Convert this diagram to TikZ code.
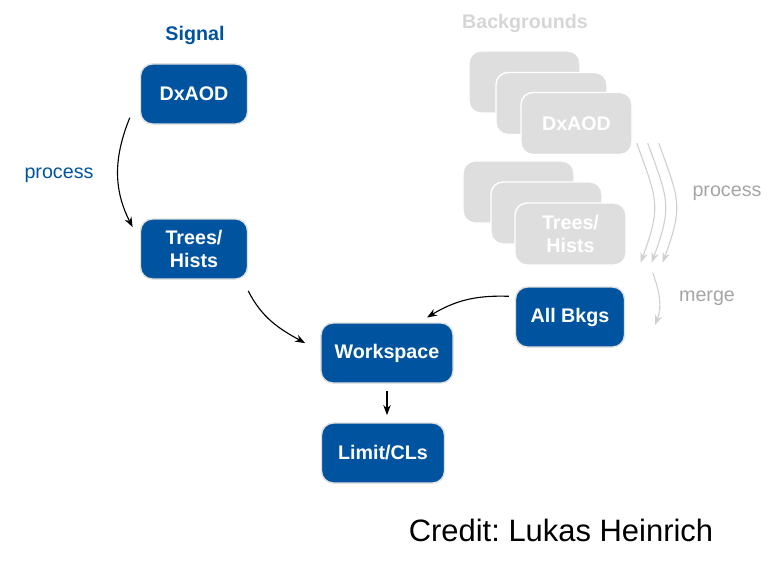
\documentclass[tikz,border=0pt]{standalone}
\usepackage{fontspec}
\setmainfont{Liberation Sans}
\usepackage{xcolor}
\usepackage{tikz}
\usetikzlibrary{arrows.meta, positioning}
\definecolor{signalblue}{RGB}{0,84,159}
\definecolor{bkgfill}{RGB}{222,222,222}
\definecolor{bkgtitle}{RGB}{214,214,214}
\definecolor{bkglabel}{RGB}{165,165,165}
\definecolor{bkgarrow}{RGB}{208,208,208}
\newcommand{\lblsize}{\fontsize{14}{16.5}\selectfont}
\frenchspacing

\begin{document}
\begin{tikzpicture}[x=0.025cm, y=-0.025cm, font=\lblsize,
    b/.style={draw=black!12, line width=1pt, rounded corners=0.3cm, fill=signalblue, text=white, font=\lblsize\bfseries, minimum height=1.5cm, align=center},
    g/.style={draw=white, line width=1pt, rounded corners=0.3cm, fill=bkgfill, text=white, font=\lblsize\bfseries, minimum width=2.775cm, minimum height=1.55cm, align=center},
    arr/.style={-{Stealth[length=2.5mm]}, thick},
    garr/.style={-{Stealth[length=2.5mm]}, thick, draw=bkgarrow}]
    \useasboundingbox (0,0) rectangle (772,562);
    % signal chain
    \node[b, minimum width=2.675cm] (sd) at (194,94) {DxAOD};
    \node[font=\lblsize\bfseries, text=signalblue] (sig) at (195,35) {Signal};
    \node[b, minimum width=2.675cm] (st) at (194,249) {Trees/\\Hists};
    \node[text=signalblue] (sp) at (59,175) {process};
    \node[b, minimum width=3.3cm] (ws) at (387,353) {Workspace};
    \node[b, minimum width=3.075cm] (lim) at (383,453) {Limit/CLs};
    % backgrounds
    \node[font=\lblsize\bfseries, text=bkgtitle] (bkg) at (525,23) {Backgrounds};
    \node[g] (bd1) at (524.5,82) {};
    \node[g] (bd2) at (551.5,103.5) {};
    \node[g] (bd3) at (576.5,123.5) {DxAOD};
    \node[g] (bt1) at (518.5,192) {};
    \node[g] (bt2) at (546.5,213) {};
    \node[g] (bt3) at (570.5,234) {Trees/\\Hists};
    \node[text=bkglabel] (bp) at (727,193) {process};
    \node[text=bkglabel] (bm) at (707,298) {merge};
    \node[b, minimum width=2.725cm] (ab) at (570,317) {All Bkgs};
    \node[font=\fontsize{22}{26}\selectfont] (credit) at (561,530) {Credit: Lukas Heinrich};
    % connectors
    \draw[arr] ([xshift=-0.25cm, yshift=0.175cm]sd.south west) to[out=-112, in=117] ([xshift=-0.18cm, yshift=-0.22cm]st.north west);
    \draw[arr] ([yshift=-0.28cm]st.south east) to[out=-63, in=151] ([xshift=-0.38cm, yshift=-0.52cm]ws.north west);
    \draw[arr] ([xshift=-0.15cm, yshift=-0.25cm]ab.north west) to[out=178, in=31] ([xshift=1cm, yshift=0.12cm]ws.north);
    \draw[arr] ([yshift=-0.18cm]ws.south) -- ([yshift=0.18cm]ws.south |- lim.north);
    \foreach \dx in {0,11,22}
      \draw[garr] ([xshift=0.1cm+\dx*0.025cm, yshift=0.3cm]bd3.south east) to[out=-70, in=70, looseness=1.3] ([xshift=0.35cm+\dx*0.025cm, yshift=0.08cm]bt3.south east);
    \draw[garr] ([xshift=0.65cm, yshift=-0.175cm]bt3.south east) to[out=-70, in=70] ([xshift=0.75cm, yshift=-0.2cm]ab.east);
  \end{tikzpicture}
\end{document}
